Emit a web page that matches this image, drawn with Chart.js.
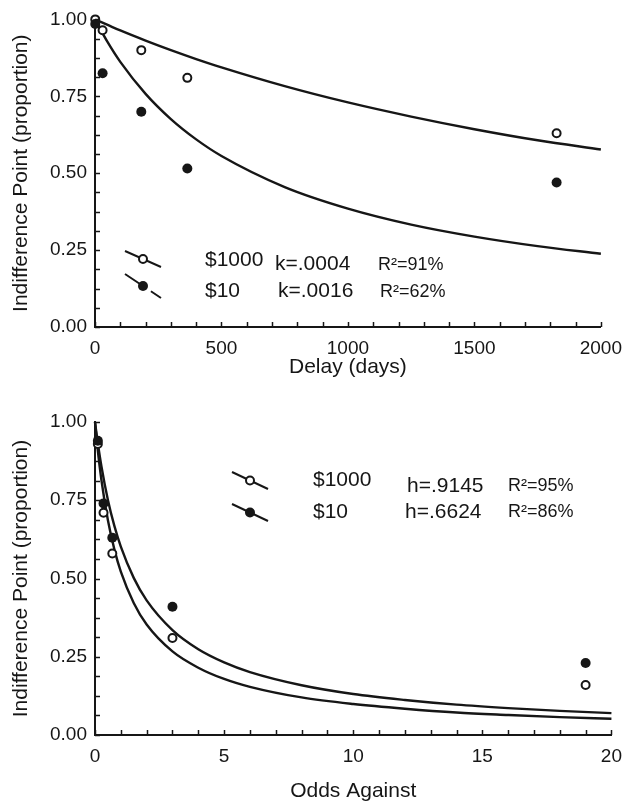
<!DOCTYPE html>
<html>
<head>
<meta charset="utf-8">
<title>Indifference points</title>
<script src="https://cdn.jsdelivr.net/npm/chart.js@4.4.1/dist/chart.umd.min.js"></script>
<style>
  body { margin: 0; background: #fff; }
  #wrap { position: relative; width: 632px; height: 806px; }
  .panel { position: absolute; left: 0; width: 632px; }
</style>
</head>
<body>
<div id="wrap">
  <div class="panel" style="top:0;height:400px"><canvas id="delayCanvas" width="632" height="400"></canvas></div>
  <div class="panel" style="top:400px;height:406px"><canvas id="oddsCanvas" width="632" height="406"></canvas></div>
</div>
<script>
// ---- top panel: delay discounting ----
var delayDays = [1, 30, 183, 365, 1825];
var delay1000 = [1.00, 0.965, 0.90, 0.81, 0.63];
var delay10 = [0.985, 0.825, 0.70, 0.515, 0.47];
// fitted curves
var delayCurveX = [0, 50, 100, 200, 300, 400, 500, 750, 1000, 1250, 1500, 1750, 2000];
var delayCurve1000 = [1.0, 0.982, 0.964, 0.931, 0.900, 0.871, 0.844, 0.783, 0.730, 0.684, 0.643, 0.607, 0.577];
var delayCurve10 = [1.0, 0.926, 0.862, 0.758, 0.676, 0.610, 0.556, 0.455, 0.385, 0.333, 0.294, 0.263, 0.238];
var delayTicks = [0, 500, 1000, 1500, 2000];

// ---- bottom panel: probability discounting ----
var oddsAgainst = [0.11, 0.33, 0.67, 3, 19];
var odds1000 = [0.93, 0.71, 0.58, 0.31, 0.16];
var odds10 = [0.94, 0.74, 0.63, 0.41, 0.23];
var oddsCurveX = [0, 0.1, 0.25, 0.5, 0.75, 1, 1.5, 2, 3, 4, 5, 6, 8, 10, 12, 14, 16, 18, 20];
var oddsCurve10 = [1.0, 0.938, 0.858, 0.751, 0.668, 0.602, 0.502, 0.430, 0.335, 0.274, 0.232, 0.201, 0.159, 0.131, 0.112, 0.097, 0.086, 0.077, 0.070];
var oddsCurve1000 = [1.0, 0.916, 0.814, 0.686, 0.593, 0.522, 0.422, 0.353, 0.267, 0.215, 0.179, 0.154, 0.120, 0.099, 0.084, 0.072, 0.064, 0.057, 0.052];
var oddsTicks = [0, 5, 10, 15, 20];

var propTicks = [0, 0.25, 0.5, 0.75, 1];

var INK = '#161616';
var FONT = '"Liberation Sans", Arial, Helvetica, sans-serif';
Chart.defaults.font.family = FONT;
Chart.defaults.color = INK;

function pairs(xs, ys) {
  return xs.map(function(x, i) { return { x: x, y: ys[i] }; });
}

function isIn(list, v) {
  return list.some(function(t) { return Math.abs(t - v) < 1e-9; });
}

// short tick marks pointing into the plot, at every (minor) tick
var inwardTicks = {
  id: 'inwardTicks',
  afterDraw: function(chart) {
    var ctx = chart.ctx, area = chart.chartArea;
    var xs = chart.scales.x, ys = chart.scales.y;
    ctx.save();
    ctx.strokeStyle = INK;
    ctx.lineWidth = 1.5;
    xs.ticks.forEach(function(t) {
      var px = Math.round(xs.getPixelForValue(t.value)) + 0.5;
      ctx.beginPath();
      ctx.moveTo(px, area.bottom);
      ctx.lineTo(px, area.bottom - 5);
      ctx.stroke();
    });
    ys.ticks.forEach(function(t) {
      var py = Math.round(ys.getPixelForValue(t.value)) + 0.5;
      ctx.beginPath();
      ctx.moveTo(area.left, py);
      ctx.lineTo(area.left + 5, py);
      ctx.stroke();
    });
    ctx.restore();
  }
};

// the hand drawn key: slanted line with marker plus text
function makeKey(rows) {
  return {
    id: 'curveKey',
    afterDraw: function(chart) {
      var ctx = chart.ctx;
      ctx.save();
      rows.forEach(function(r) {
        ctx.strokeStyle = INK;
        ctx.lineWidth = 2;
        var mx = (r.x1 + r.x2) / 2, my = (r.y1 + r.y2) / 2;
        ctx.beginPath();
        ctx.moveTo(r.x1, r.y1);
        if (r.gap) {
          ctx.lineTo(mx, my);
          ctx.moveTo(r.x1 + (r.x2 - r.x1) * 0.72, r.y1 + (r.y2 - r.y1) * 0.72);
        }
        ctx.lineTo(r.x2, r.y2);
        ctx.stroke();
        ctx.beginPath();
        ctx.arc(mx, my, r.filled ? 5 : 4, 0, Math.PI * 2);
        ctx.fillStyle = r.filled ? INK : '#fff';
        ctx.fill();
        if (!r.filled) ctx.stroke();
        ctx.fillStyle = INK;
        ctx.textBaseline = 'middle';
        ctx.textAlign = 'left';
        r.texts.forEach(function(t) {
          ctx.font = t.size + 'px ' + FONT;
          ctx.fillText(t.text, t.x, t.y);
        });
      });
      ctx.restore();
    }
  };
}

function makeChart(canvasId, cfg) {
  var ctx = document.getElementById(canvasId).getContext('2d');
  return new Chart(ctx, {
    type: 'scatter',
    data: {
      datasets: [{
        label: '$10',
        data: pairs(cfg.obsX, cfg.obs10),
        pointRadius: 5,
        pointBackgroundColor: INK,
        pointBorderWidth: 0,
        clip: false
      }, {
        label: '$1000',
        data: pairs(cfg.obsX, cfg.obs1000),
        pointRadius: 4,
        pointBackgroundColor: '#fff',
        pointBorderColor: INK,
        pointBorderWidth: 2,
        clip: false
      }, {
        label: 'fit $1000',
        data: pairs(cfg.curveX, cfg.curveA),
        showLine: true,
        pointRadius: 0,
        borderColor: INK,
        borderWidth: 2.4,
        cubicInterpolationMode: 'monotone',
        clip: false
      }, {
        label: 'fit $10',
        data: pairs(cfg.curveX, cfg.curveB),
        showLine: true,
        pointRadius: 0,
        borderColor: INK,
        borderWidth: 2.4,
        cubicInterpolationMode: 'monotone',
        clip: false
      }]
    },
    options: {
      responsive: false,
      animation: false,
      layout: { padding: cfg.padding },
      plugins: { legend: { display: false }, tooltip: { enabled: false } },
      scales: {
        x: {
          type: 'linear',
          min: 0,
          max: cfg.xMax,
          afterFit: function(s) { s.height = cfg.xHeight; },
          grid: { display: true, drawOnChartArea: false, drawTicks: false },
          border: { display: true, color: INK, width: 2 },
          ticks: {
            stepSize: cfg.xStep,
            autoSkip: false,
            maxRotation: 0,
            padding: 10,
            font: { size: 19 },
            callback: function(v) { return isIn(cfg.xTicks, v) ? String(v) : ''; }
          },
          title: {
            display: true,
            text: cfg.xTitle,
            font: { size: 21 },
            padding: { top: 0, bottom: cfg.xTitlePad }
          }
        },
        y: {
          min: 0,
          max: 1,
          afterFit: function(s) { s.width = 95; },
          grid: { display: true, drawOnChartArea: false, drawTicks: false },
          border: { display: true, color: INK, width: 2 },
          ticks: {
            stepSize: 0.0625,
            autoSkip: false,
            padding: 8,
            font: { size: 19 },
            callback: function(v) { return isIn(propTicks, v) ? v.toFixed(2) : ''; }
          },
          title: {
            display: true,
            text: 'Indifference Point (proportion)',
            font: { size: 21 },
            padding: { top: 9, bottom: 0 }
          }
        }
      }
    },
    plugins: [inwardTicks, makeKey(cfg.key)]
  });
}

makeChart('delayCanvas', {
  obsX: delayDays, obs1000: delay1000, obs10: delay10,
  curveX: delayCurveX, curveA: delayCurve1000, curveB: delayCurve10,
  xMax: 2000, xStep: 100, xTicks: delayTicks, xTitle: 'Delay (days)',
  xHeight: 73, xTitlePad: 20,
  padding: { top: 17, right: 26, left: 0, bottom: 0 },
  key: [
    { x1: 125, y1: 251, x2: 161, y2: 267, filled: false, texts: [
      { text: '$1000', x: 205, y: 260, size: 21 },
      { text: 'k=.0004', x: 275, y: 264, size: 21 },
      { text: 'R\u00b2=91%', x: 378, y: 265, size: 18 }
    ] },
    { x1: 125, y1: 274, x2: 161, y2: 298, filled: true, gap: true, texts: [
      { text: '$10', x: 205, y: 291, size: 21 },
      { text: 'k=.0016', x: 278, y: 291, size: 21 },
      { text: 'R\u00b2=62%', x: 380, y: 292, size: 18 }
    ] }
  ]
});

makeChart('oddsCanvas', {
  obsX: oddsAgainst, obs1000: odds1000, obs10: odds10,
  curveX: oddsCurveX, curveA: oddsCurve10, curveB: oddsCurve1000,
  xMax: 20, xStep: 1, xTicks: oddsTicks, xTitle: 'Odds Against',
  xHeight: 71, xTitlePad: 2,
  padding: { top: 22, right: 17, left: 0, bottom: 0 },
  key: [
    { x1: 232, y1: 72, x2: 268, y2: 89, filled: false, texts: [
      { text: '$1000', x: 313, y: 80, size: 21 },
      { text: 'h=.9145', x: 407, y: 86, size: 21 },
      { text: 'R\u00b2=95%', x: 508, y: 86, size: 18 }
    ] },
    { x1: 232, y1: 104, x2: 268, y2: 121, filled: true, texts: [
      { text: '$10', x: 313, y: 112, size: 21 },
      { text: 'h=.6624', x: 405, y: 112, size: 21 },
      { text: 'R\u00b2=86%', x: 508, y: 112, size: 18 }
    ] }
  ]
});
</script>
</body>
</html>
